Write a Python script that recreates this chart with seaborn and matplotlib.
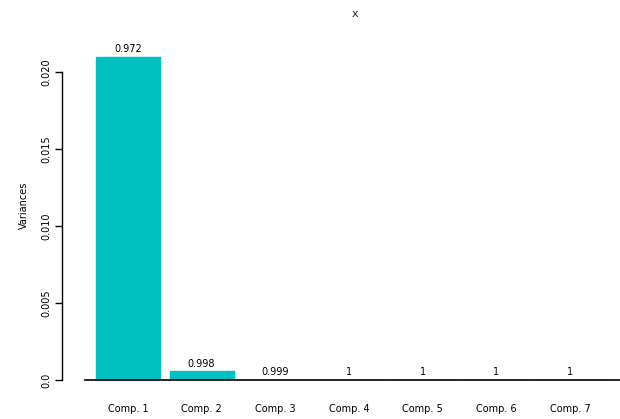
import matplotlib
matplotlib.use("Agg")
import matplotlib.pyplot as plt
import seaborn as sns
import pandas as pd

components = ["Comp. 1", "Comp. 2", "Comp. 3", "Comp. 4", "Comp. 5", "Comp. 6", "Comp. 7"]
variances = [0.02097, 0.00056, 0.00002, 0.00001, 0.000005, 0.000003, 0.000001]
cum_labels = ["0.972", "0.998", "0.999", "1", "1", "1", "1"]
y_ticks = [0.0, 0.005, 0.010, 0.015, 0.020]
y_tick_labels = ["0.0", "0.005", "0.010", "0.015", "0.020"]

df = pd.DataFrame({"component": components, "variance": variances})

sns.set_style("white")
plt.rcParams["font.family"] = ["DejaVu Sans"]

fig = plt.figure(figsize=(6.2, 4.19), dpi=100)
ax = fig.add_axes([85 / 620, 39 / 419, 535 / 620, 350 / 419])

sns.barplot(data=df, x="component", y="variance", color="#00C0C0",
            width=0.87, saturation=1, ax=ax, edgecolor="#00C0C0")

for p, lab in zip(ax.patches, cum_labels):
    ax.annotate(lab, (p.get_x() + p.get_width() / 2, p.get_height()),
                xytext=(0, 2), textcoords="offset points",
                ha="center", va="bottom", fontsize=7, color="black")

ax.set_xlim(-0.583, 6.68)
ax.set_ylim(0, 0.02273)

for s in ["top", "right"]:
    ax.spines[s].set_visible(False)
ax.spines["left"].set_position(("outward", 16.5))
ax.spines["left"].set_bounds(0, 0.020)
ax.spines["left"].set_color("black")
ax.spines["left"].set_linewidth(1)
ax.spines["bottom"].set_color("black")
ax.spines["bottom"].set_linewidth(1.2)

ax.set_yticks(y_ticks)
ax.set_yticklabels(y_tick_labels, rotation=90, va="center", fontsize=7, color="black")
ax.tick_params(axis="y", left=True, length=5, width=1, color="black", pad=3)
ax.tick_params(axis="x", bottom=False, labelsize=7, labelcolor="black", pad=14)

ax.set_xlabel("")
ax.set_ylabel("Variances", fontsize=7, labelpad=9, color="black")
fig.text(355 / 620, 1 - 14 / 419, "x", ha="center", va="center", fontsize=8)

fig.savefig("out.png", dpi=100)
